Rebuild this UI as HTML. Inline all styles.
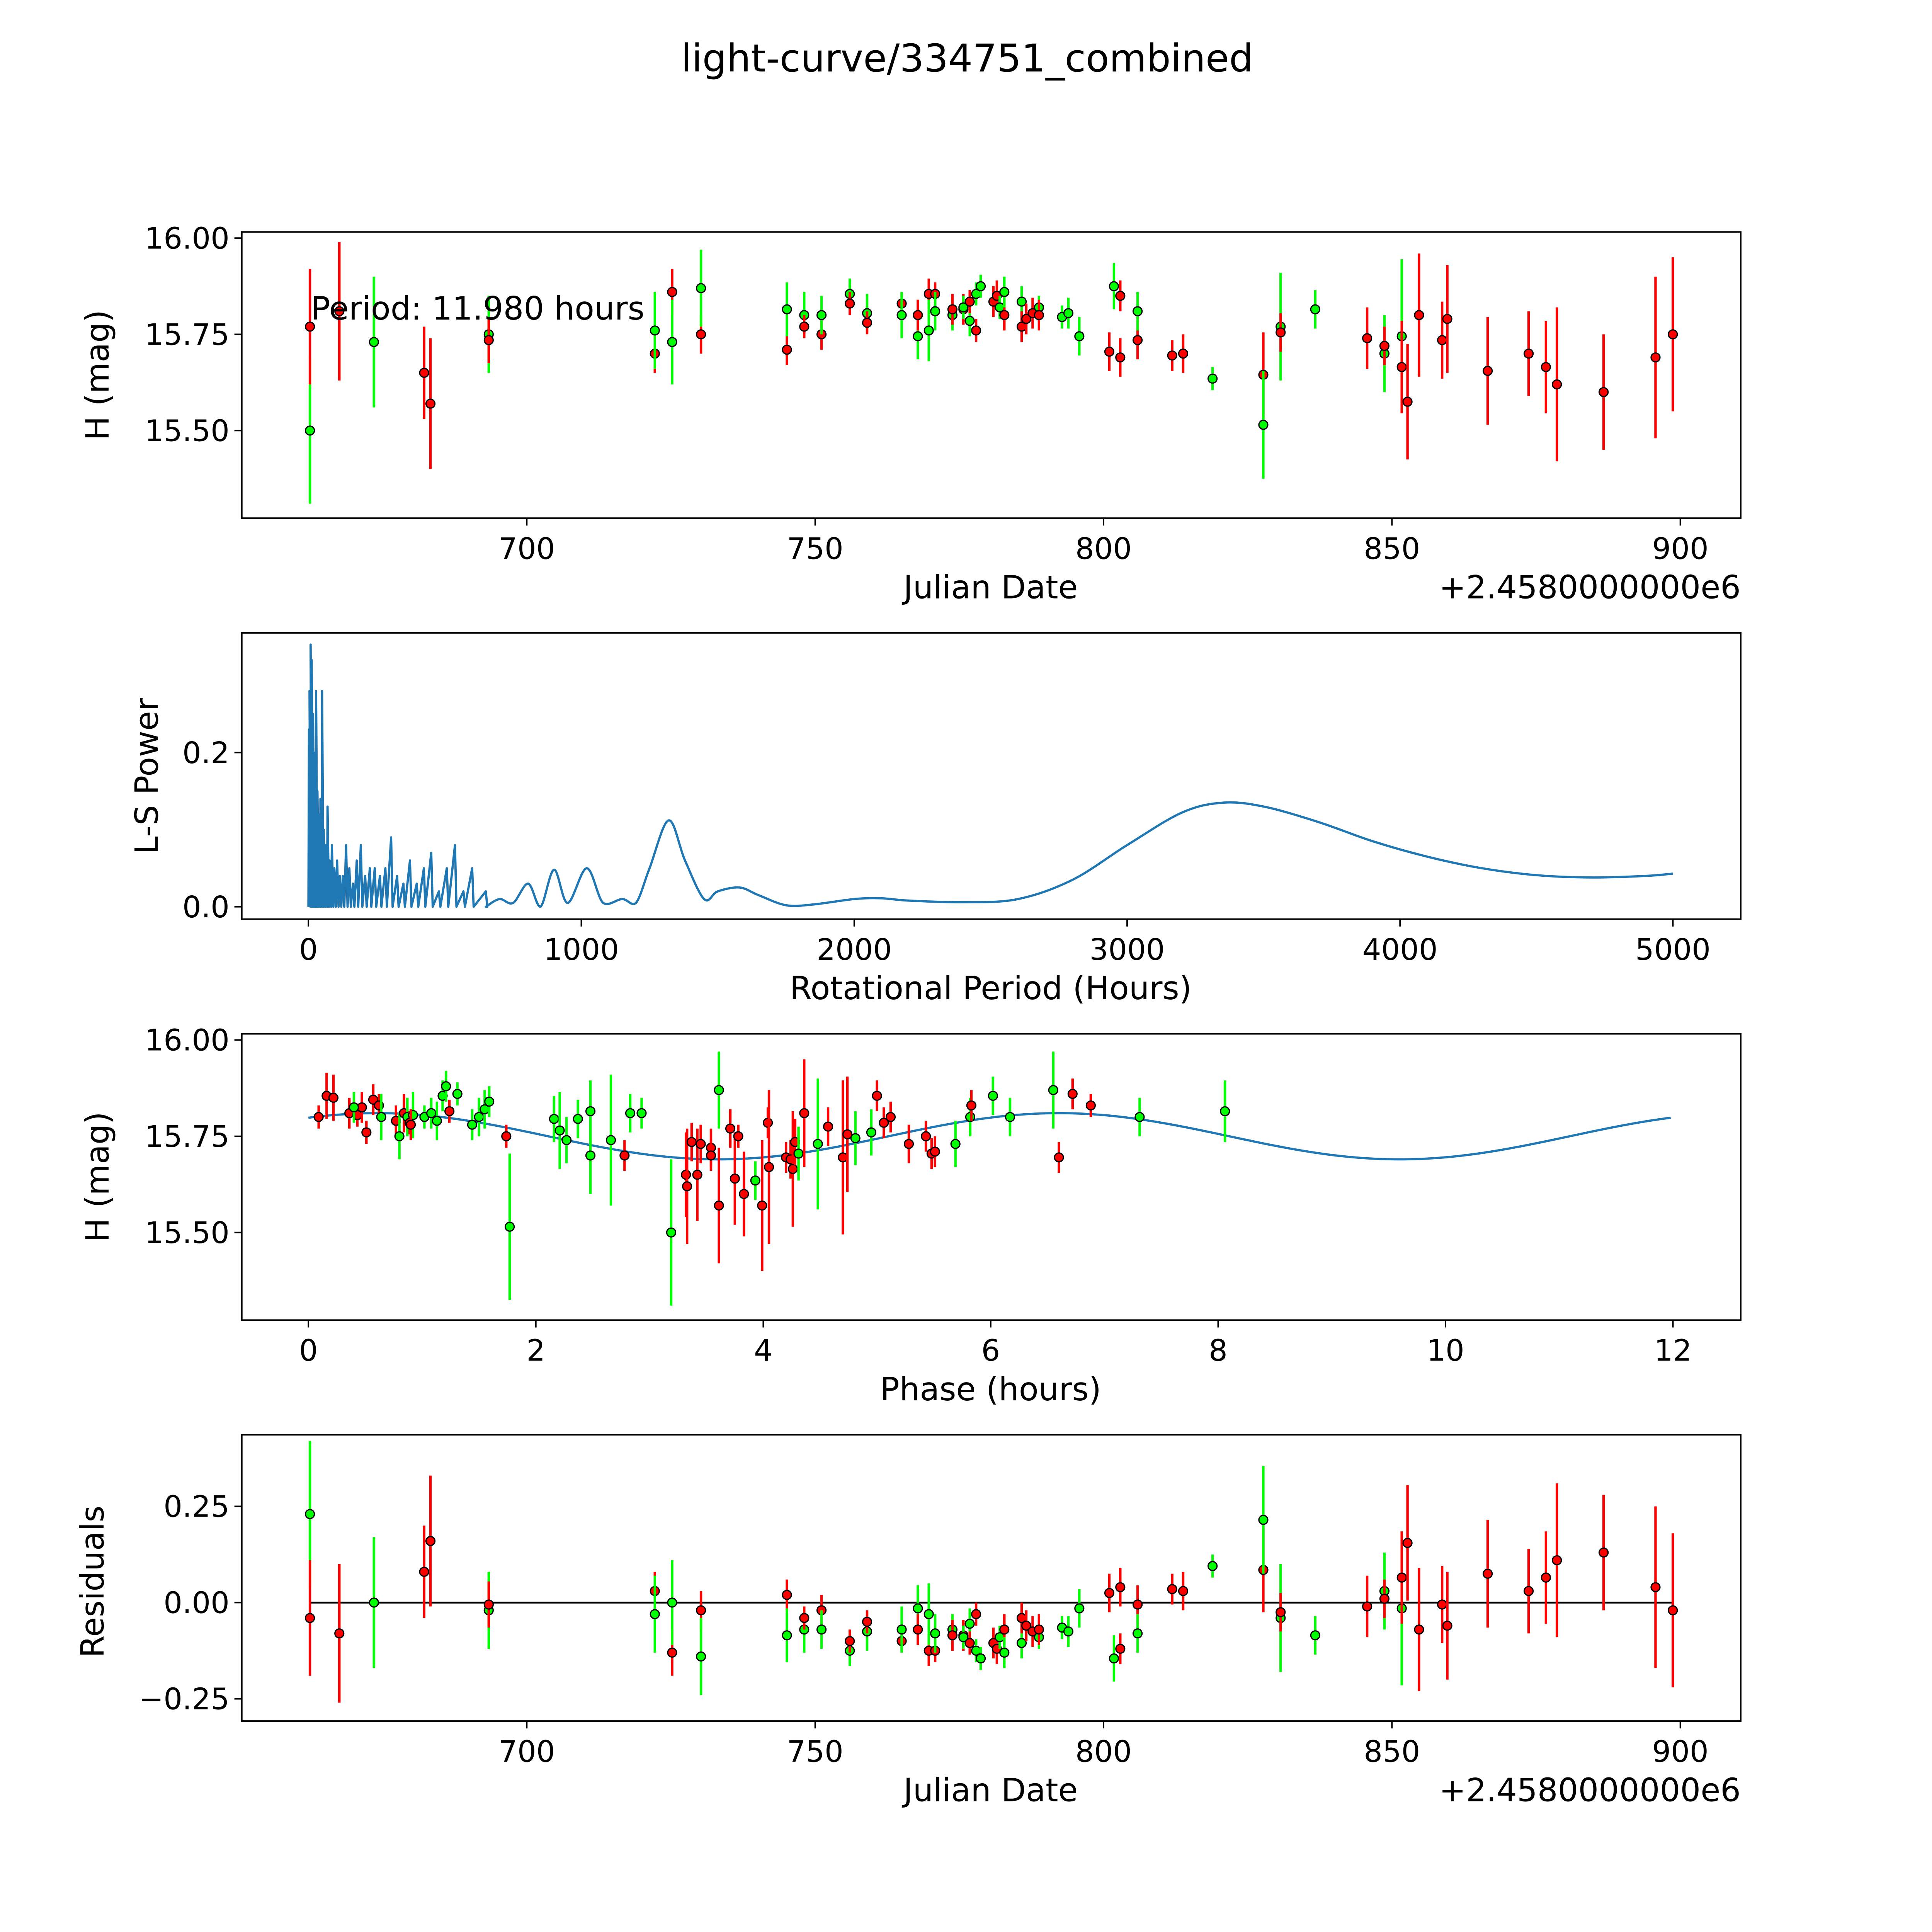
<!DOCTYPE html>
<html><head><meta charset="utf-8"><style>
html,body{margin:0;padding:0;background:#fff;overflow:hidden;width:100vw;height:100vh;}
svg{display:block;width:100vw;height:100vh;font-family:"DejaVu Sans","Liberation Sans",sans-serif;}
</style></head><body>
<svg id="fig" viewBox="0 0 1566 1566" preserveAspectRatio="none" xmlns="http://www.w3.org/2000/svg">
<rect x="0" y="0" width="1566" height="1566" fill="#fff"/>
<text x="784" y="58" font-size="31" text-anchor="middle">light-curve/334751_combined</text>
</svg>
<script>
// ---- Panel 1 data: observations ----
const obsDate = [662.4,662.4,667.5,673.5,682.2,683.3,693.4,693.4,722.2,722.2,725.2,725.2,730.2,730.2,745.1,745.1,748.1,748.1,751.1,751.1,756.0,756.0,759.0,759.0,765.0,765.0,767.8,767.8,769.7,769.7,770.8,770.8,773.8,773.8,775.7,775.7,776.8,776.8,777.9,777.9,778.7,780.9,781.5,782.0,782.8,782.8,785.8,785.8,786.6,787.7,788.8,788.8,792.8,793.9,795.8,801.0,801.8,802.9,802.9,805.9,805.9,811.9,813.8,818.9,827.7,827.7,830.7,830.7,836.7,845.7,848.7,848.7,851.7,851.7,852.7,854.7,858.7,859.6,866.6,873.7,876.7,878.6,886.7,895.7,898.7];
const obsMag = [15.50,15.77,15.81,15.73,15.65,15.57,15.75,15.735,15.70,15.76,15.86,15.73,15.75,15.87,15.71,15.815,15.80,15.77,15.75,15.80,15.855,15.83,15.805,15.78,15.83,15.80,15.745,15.80,15.855,15.76,15.855,15.81,15.80,15.815,15.815,15.82,15.785,15.835,15.76,15.855,15.875,15.835,15.85,15.82,15.80,15.86,15.835,15.77,15.79,15.805,15.82,15.80,15.795,15.805,15.745,15.705,15.875,15.85,15.69,15.735,15.81,15.695,15.70,15.635,15.645,15.515,15.77,15.755,15.815,15.74,15.70,15.72,15.745,15.665,15.575,15.80,15.735,15.79,15.655,15.70,15.665,15.62,15.60,15.69,15.75];
const obsErr = [0.19,0.15,0.18,0.17,0.12,0.17,0.10,0.06,0.05,0.10,0.06,0.11,0.05,0.10,0.04,0.07,0.06,0.03,0.04,0.05,0.04,0.03,0.05,0.03,0.03,0.06,0.06,0.04,0.04,0.08,0.03,0.05,0.04,0.04,0.04,0.03,0.04,0.03,0.03,0.03,0.03,0.04,0.04,0.03,0.04,0.04,0.04,0.04,0.04,0.04,0.03,0.04,0.03,0.04,0.05,0.05,0.06,0.04,0.05,0.05,0.05,0.04,0.05,0.03,0.11,0.14,0.14,0.05,0.05,0.08,0.10,0.05,0.20,0.12,0.15,0.16,0.10,0.14,0.14,0.11,0.12,0.20,0.15,0.21,0.20];
const obsBand = ['g','r','r','g','r','r','g','r','r','g','r','g','r','g','r','g','g','r','r','g','g','r','g','r','r','g','g','r','r','g','r','g','g','r','r','g','g','r','r','g','g','r','r','g','r','g','g','r','r','r','g','r','g','g','g','r','g','r','r','r','g','r','r','g','r','g','g','r','g','r','g','r','g','r','r','r','r','r','r','r','r','r','r','r','r'];
const modelMean = 15.73;
// ---- Panel 2 data: periodogram ----
const spikePeriod = [2,4,6,8,10,12,14,17,20,24,28,33,38,44,50,56,63,70,78,86,95,105,115,126,138,150,163,177,192,208,225,243,262,282,303,325,348,372,397,423,450,478,507,537,568,600,650];
const spikePower = [0.23,0.28,0.26,0.34,0.30,0.32,0.22,0.25,0.17,0.20,0.28,0.15,0.12,0.14,0.28,0.10,0.08,0.13,0.06,0.08,0.05,0.06,0.04,0.04,0.08,0.05,0.03,0.06,0.08,0.04,0.05,0.05,0.04,0.05,0.09,0.04,0.03,0.06,0.03,0.05,0.07,0.02,0.05,0.08,0.02,0.05,0.02];
const smoothPeriod = [650,700,750,805,850,900,950,1020,1080,1150,1200,1250,1320,1380,1450,1500,1580,1650,1750,1850,2000,2100,2200,2400,2600,2800,3000,3200,3350,3500,3700,3900,4100,4300,4500,4700,4900,5000];
const smoothPower = [0.0,0.01,0.005,0.03,0.0,0.048,0.005,0.05,0.005,0.01,0.005,0.05,0.112,0.06,0.01,0.02,0.025,0.015,0.002,0.003,0.010,0.011,0.008,0.006,0.010,0.035,0.080,0.122,0.135,0.130,0.110,0.085,0.065,0.050,0.041,0.038,0.040,0.043];
// ---- Panel 3 data: phased ----
const phase = [0.09,0.16,0.22,0.36,0.43,0.47,0.40,0.51,0.57,0.62,0.64,0.77,0.80,0.84,0.87,0.89,0.92,0.90,1.02,1.08,1.13,1.18,1.21,1.24,1.31,1.44,1.50,1.55,1.59,1.74,1.77,2.16,2.21,2.27,2.37,2.48,2.48,2.66,2.78,2.83,2.93,3.19,3.32,3.33,3.37,3.42,3.45,3.54,3.54,3.61,3.61,3.71,3.75,3.78,3.83,3.93,3.99,4.04,4.05,4.20,4.24,4.26,4.28,4.31,4.36,4.48,4.57,4.70,4.74,4.81,4.95,5.00,5.06,5.12,5.28,5.43,5.48,5.51,5.69,5.82,5.83,6.02,6.17,6.55,6.60,6.72,6.88,7.31,8.06];
const phaseMag = [15.80,15.855,15.85,15.81,15.805,15.825,15.825,15.76,15.845,15.83,15.80,15.79,15.75,15.81,15.80,15.785,15.805,15.78,15.80,15.81,15.79,15.855,15.88,15.815,15.86,15.78,15.80,15.82,15.84,15.75,15.515,15.795,15.765,15.74,15.795,15.70,15.815,15.74,15.70,15.81,15.81,15.50,15.65,15.62,15.735,15.65,15.73,15.72,15.70,15.87,15.57,15.77,15.64,15.75,15.60,15.635,15.57,15.785,15.67,15.695,15.69,15.665,15.735,15.705,15.81,15.73,15.775,15.695,15.755,15.745,15.76,15.855,15.785,15.80,15.73,15.75,15.705,15.71,15.73,15.80,15.83,15.855,15.80,15.87,15.695,15.86,15.83,15.80,15.815];
const phaseErr = [0.03,0.06,0.06,0.04,0.03,0.04,0.04,0.03,0.04,0.03,0.06,0.04,0.06,0.05,0.05,0.03,0.06,0.04,0.03,0.04,0.05,0.04,0.04,0.03,0.03,0.04,0.05,0.05,0.04,0.03,0.19,0.06,0.10,0.06,0.05,0.10,0.08,0.17,0.04,0.05,0.04,0.19,0.11,0.15,0.05,0.12,0.05,0.05,0.04,0.10,0.15,0.05,0.12,0.03,0.11,0.05,0.17,0.04,0.20,0.04,0.05,0.15,0.06,0.07,0.14,0.17,0.05,0.20,0.15,0.07,0.06,0.04,0.04,0.04,0.05,0.04,0.04,0.04,0.06,0.05,0.04,0.05,0.05,0.10,0.04,0.04,0.03,0.05,0.08];
const phaseBand = ['r','r','r','r','r','r','g','r','r','r','g','r','g','r','g','r','g','r','g','g','g','g','g','r','g','g','g','g','g','r','g','g','g','g','g','g','g','g','r','g','g','g','r','r','r','r','r','r','r','g','r','r','r','r','r','g','r','r','r','r','r','r','r','g','r','g','r','r','r','g','g','r','r','r','r','r','r','r','g','g','r','g','g','g','r','r','r','g','g'];
const foldPeriod = 11.98, foldMean = 15.75, foldAmp = 0.06, foldPeak = 6.6;
// ---- tick labels ----
const jdTicks = [700,750,800,850,900];
const magTicks = [16.00,15.75,15.50];
const magTickLabels = ['16.00','15.75','15.50'];
const powTicks = [0.0,0.2];
const powTickLabels = ['0.0','0.2'];
const perTicks = [0,1000,2000,3000,4000,5000];
const phaseTicks = [0,2,4,6,8,10,12];
const resTicks = [0.25,0.00,-0.25];
const resTickLabels = ['0.25','0.00','\u22120.25'];

const NS='http://www.w3.org/2000/svg';
const svg=document.getElementById('fig');
function mk(tag,attrs,parent){const e=document.createElementNS(NS,tag);for(const k in attrs)e.setAttribute(k,attrs[k]);(parent||svg).appendChild(e);return e;}
const L=196,R=1411;
const panels=[{t:188,b:420},{t:513,b:745},{t:838,b:1070},{t:1163,b:1395}];
const xJD=d=>427+(d-700)*4.675;
const y1=m=>193+(16-m)*312;
const xP=p=>250+p*0.2212;
const y2=v=>735-v*625;
const xPh=p=>250+p*92.17;
const y3=m=>843+(16-m)*312;
const y4=r=>1299-r*312;
const GREEN='#00ff00',RED='#ff0000';

function frame(i,name){const p=panels[i];const g=mk('g',{});
 const r=mk('rect',{x:L,y:p.t,width:R-L,height:p.b-p.t,fill:'none',stroke:'#000','stroke-width':1.2},g);
 return g;}
function xTicks(g,i,vals,fx,labels){const p=panels[i];vals.forEach((v,k)=>{const x=fx(v);
 const t=mk('line',{x1:x,x2:x,y1:p.b,y2:p.b+6,stroke:'#000','stroke-width':1.2},g);
 const tx=mk('text',{x:x,y:p.b+33,'font-size':24,'text-anchor':'middle'},g);tx.textContent=labels?labels[k]:String(v);});}
function yTicks(g,vals,fy,labels){vals.forEach((v,k)=>{const y=fy(v);
 const t=mk('line',{x1:L-6,x2:L,y1:y,y2:y,stroke:'#000','stroke-width':1.2},g);
 const tx=mk('text',{x:L-10,y:y+8.5,'font-size':24,'text-anchor':'end'},g);tx.textContent=labels[k];});}
function label(g,txt,x,y,rot,name,anchor){const t=mk('text',{x:x,y:y,'font-size':26,'text-anchor':anchor||'middle'},g);if(rot)t.setAttribute('transform','rotate(-90 '+x+' '+y+')');t.textContent=txt;}
function point(g,x,y,ey1,ey2,band){const c=band==='g'?GREEN:RED;
 const l=mk('line',{x1:x,x2:x,y1:ey1,y2:ey2,stroke:c,'stroke-width':2},g);
 const m=mk('circle',{cx:x,cy:y,r:3.6,fill:c,stroke:'#000','stroke-width':1},g);}

// Panel 1
let g=frame(0,'light-curve-panel');
xTicks(g,0,jdTicks,xJD);yTicks(g,magTicks,y1,magTickLabels);
label(g,'Julian Date',803,485,false,'x-axis-title');
label(g,'+2.4580000000e6',1411,485,false,'x-offset-label','end');
label(g,'H (mag)',88,304,true,'y-axis-title');
obsDate.forEach((d,i)=>{const m=obsMag[i],e=obsErr[i];point(g,xJD(d),y1(m),y1(m+e),y1(m-e),obsBand[i]);});
label(g,'Period: 11.980 hours',252,259,false,'period-annotation','start');

// Panel 2
g=frame(1,'periodogram-panel');
xTicks(g,1,perTicks,xP);yTicks(g,powTicks,y2,powTickLabels);
label(g,'Rotational Period (Hours)',803,810,false,'x-axis-title');
label(g,'L-S Power',128,629,true,'y-axis-title');
let d='M'+xP(0)+' '+y2(0);
spikePeriod.forEach((p,i)=>{d+=' L'+xP(p)+' '+y2(spikePower[i])+' L'+(xP(p)+1.2)+' '+y2(0);});
const sp=smoothPeriod.map((p,i)=>[xP(p),y2(smoothPower[i])]);
d+=' L'+sp[0][0]+' '+sp[0][1];
for(let i=0;i<sp.length-1;i++){const p0=sp[Math.max(0,i-1)],p1=sp[i],p2=sp[i+1],p3=sp[Math.min(sp.length-1,i+2)];
 const c1x=p1[0]+(p2[0]-p0[0])/6,c1y=p1[1]+(p2[1]-p0[1])/6,c2x=p2[0]-(p3[0]-p1[0])/6,c2y=p2[1]-(p3[1]-p1[1])/6;
 d+=' C'+c1x+' '+Math.min(c1y,735)+' '+c2x+' '+Math.min(c2y,735)+' '+p2[0]+' '+p2[1];}
const pl=mk('path',{d:d,fill:'none',stroke:'#1f77b4','stroke-width':1.8,'stroke-linejoin':'round'},g);


// Panel 3
g=frame(2,'phase-panel');
xTicks(g,2,phaseTicks,xPh);yTicks(g,magTicks,y3,magTickLabels);
label(g,'Phase (hours)',803,1135,false,'x-axis-title');
label(g,'H (mag)',88,954,true,'y-axis-title');
let md='';for(let k=0;k<=240;k++){const t=foldPeriod*k/240;const m=foldMean+foldAmp*Math.cos(2*Math.PI*(t-foldPeak)/(foldPeriod/2));md+=(k?' L':'M')+xPh(t)+' '+y3(m);}
const ml=mk('path',{d:md,fill:'none',stroke:'#1f77b4','stroke-width':1.8},g);
phase.forEach((p,i)=>{const m=phaseMag[i],e=phaseErr[i];point(g,xPh(p),y3(m),y3(m+e),y3(m-e),phaseBand[i]);});

// Panel 4
g=frame(3,'residuals-panel');
xTicks(g,3,jdTicks,xJD);yTicks(g,resTicks,y4,resTickLabels);
label(g,'Julian Date',803,1460,false,'x-axis-title');
label(g,'+2.4580000000e6',1411,1460,false,'x-offset-label','end');
label(g,'Residuals',84,1282,true,'y-axis-title');
const zl=mk('line',{x1:xJD(662.4),x2:xJD(898.7),y1:y4(0),y2:y4(0),stroke:'#000','stroke-width':1.5},g);

obsDate.forEach((dd,i)=>{const r=modelMean-obsMag[i],e=obsErr[i];point(g,xJD(dd),y4(r),y4(r+e),y4(r-e),obsBand[i]);});
</script>
</body></html>
